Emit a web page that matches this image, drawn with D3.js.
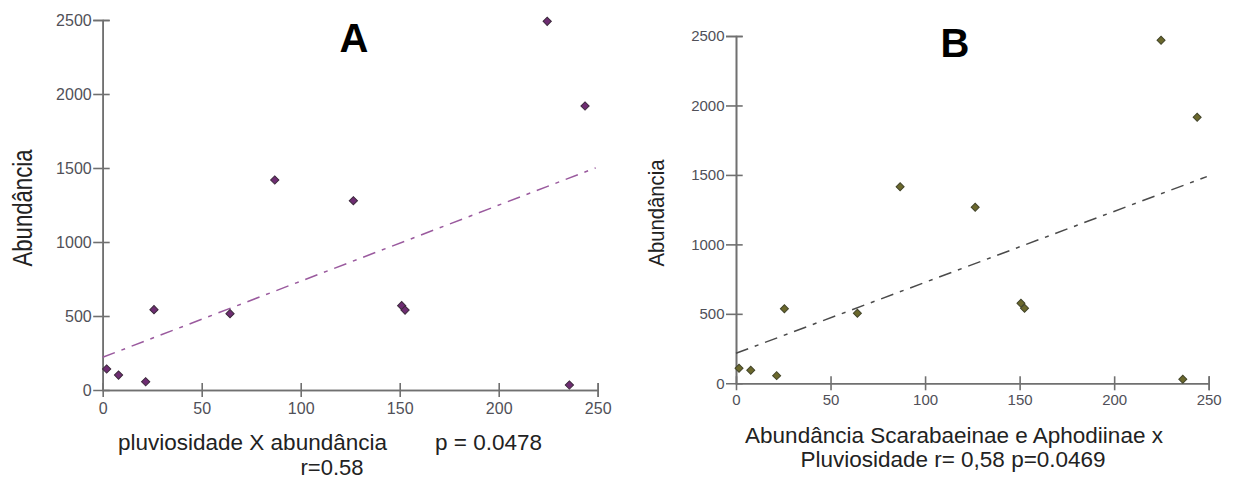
<!DOCTYPE html>
<html>
<head>
<meta charset="utf-8">
<script src="https://cdn.jsdelivr.net/npm/d3@7"></script>
<style>
  body { margin: 0; background: #fff; }
  svg { display: block; font-family: "Liberation Sans", Arial, sans-serif; }
</style>
</head>
<body>
<svg id="chart" width="1233" height="480"></svg>
<script>
// ---- data ----
const xTicks = [0, 50, 100, 150, 200, 250];
const yTicks = [0, 500, 1000, 1500, 2000, 2500];

const rainA = [2, 8, 21.7, 25.9, 64.3, 86.9, 126.6, 151.0, 152.7, 224.5, 235.7, 243.6];
const abundA = [142, 101, 56, 543, 516, 1419, 1279, 570, 540, 2491, 34, 1919];
const trendAx = [0, 249];
const trendAy = [221, 1501];

const rainB = [1.6, 7.8, 21.5, 25.6, 64.2, 86.8, 126.5, 150.7, 152.6, 224.8, 236.3, 243.9];
const abundB = [108, 94, 55, 537, 504, 1415, 1267, 576, 540, 2469, 29, 1915];
const trendBx = [0, 249];
const trendBy = [216, 1488];

const titles = ["A", "B"];
const yLabel = "Abundância";
const captionA = ["pluviosidade X abundância", "p = 0.0478", "r=0.58"];
const captionB = ["Abundância Scarabaeinae e Aphodiinae x", "Pluviosidade r= 0,58 p=0.0469"];

// ---- drawing ----
const svg = d3.select("#chart");
const fmt = d3.format("d");

function panel(cfg) {
  const x = d3.scaleLinear().domain([0, 250]).range(cfg.xr);
  const y = d3.scaleLinear().domain([0, 2500]).range(cfg.yr);
  const g = svg.append("g");

  const ya = g.append("g").attr("transform", `translate(${cfg.xr[0]},0)`)
    .call(d3.axisLeft(y).tickValues(yTicks).tickFormat(fmt).tickSizeOuter(0).tickSize(cfg.yTickOut).tickPadding(cfg.yPad));
  const yb = g.append("g").attr("transform", `translate(${cfg.xr[0]},0)`)
    .call(d3.axisLeft(y).tickValues(yTicks).tickSizeOuter(0).tickSize(-cfg.yTickIn).tickFormat(""));
  const xa = g.append("g").attr("transform", `translate(0,${cfg.yr[0]})`)
    .call(d3.axisBottom(x).tickValues(xTicks).tickFormat(fmt).tickSizeOuter(0).tickSize(7).tickPadding(cfg.xPad));
  const xb = g.append("g").attr("transform", `translate(0,${cfg.yr[0]})`)
    .call(d3.axisBottom(x).tickValues(xTicks).tickSizeOuter(0).tickSize(-7).tickFormat(""));

  [ya, yb, xa, xb].forEach(a => {
    a.attr("font-family", "Liberation Sans, Arial, sans-serif").attr("font-size", cfg.tickFont);
    a.select(".domain").attr("stroke", "#707070").attr("stroke-width", 1.6);
    a.selectAll(".tick line").attr("stroke", "#707070").attr("stroke-width", 1.6);
    a.selectAll(".tick").filter(d => d === 0).select("line").remove();
    a.selectAll(".tick text").attr("fill", "#505058");
  });

  const tl = d3.line().x(d => x(d[0])).y(d => y(d[1]));
  g.append("path")
    .datum(cfg.tx.map((v, i) => [v, cfg.ty[i]]))
    .attr("d", tl)
    .attr("fill", "none")
    .attr("stroke", cfg.lineColor)
    .attr("stroke-width", 1.5)
    .attr("stroke-dasharray", "13,7,4,7");

  const sym = d3.symbol().type(d3.symbolSquare).size(cfg.msize);
  g.selectAll("path.pt")
    .data(cfg.px.map((v, i) => [v, cfg.py[i]]))
    .join("path")
    .attr("class", "pt")
    .attr("d", sym)
    .attr("transform", d => `translate(${x(d[0])},${y(d[1])}) rotate(45)`)
    .attr("fill", cfg.fill)
    .attr("stroke", cfg.stroke)
    .attr("stroke-width", 1);

  g.append("text").attr("x", cfg.titleX).attr("y", cfg.titleY)
    .attr("text-anchor", "middle").attr("font-weight", "bold")
    .attr("font-size", 40).attr("fill", "#000").text(cfg.title);

  g.append("text")
    .attr("transform", `translate(${cfg.ylX},${cfg.ylY}) rotate(-90)`)
    .attr("text-anchor", "middle")
    .attr("font-size", cfg.ylFont)
    .attr("textLength", cfg.ylLen)
    .attr("lengthAdjust", "spacingAndGlyphs")
    .attr("fill", "#222").text(yLabel);
  return g;
}

const gA = panel({
  xr: [102.7, 597.7], yr: [390, 20],
  yTickOut: 9.5, yTickIn: 7, yPad: 1.5, xPad: 6, tickFont: 16,
  tx: trendAx, ty: trendAy, lineColor: "#9a5a9e",
  px: rainA, py: abundA, fill: "#6e2c72", stroke: "#3c2a3c", msize: 34,
  title: titles[0], titleX: 354, titleY: 52,
  ylX: 32, ylY: 208, ylFont: 27, ylLen: 117
});

const gB = panel({
  xr: [736, 1208.7], yr: [383.3, 36],
  yTickOut: 10, yTickIn: 6.7, yPad: 1.5, xPad: 4, tickFont: 15,
  tx: trendBx, ty: trendBy, lineColor: "#4a4a4a",
  px: rainB, py: abundB, fill: "#6b682c", stroke: "#43452a", msize: 32,
  title: titles[1], titleX: 955, titleY: 57,
  ylX: 664, ylY: 213, ylFont: 22, ylLen: 107
});

gA.append("text").attr("x", 118).attr("y", 450).attr("font-size", 22.5).attr("fill", "#222")
  .text(captionA[0]);
gA.append("text").attr("x", 542).attr("y", 450).attr("font-size", 22.5).attr("fill", "#222")
  .attr("text-anchor", "end").text(captionA[1]);
gA.append("text").attr("x", 332).attr("y", 475).attr("font-size", 22).attr("fill", "#222")
  .attr("text-anchor", "middle").text(captionA[2]);

gB.append("text").attr("x", 954).attr("y", 443).attr("font-size", 22.5).attr("fill", "#222")
  .attr("text-anchor", "middle").text(captionB[0]);
gB.append("text").attr("x", 953).attr("y", 467).attr("font-size", 22.5).attr("fill", "#222")
  .attr("text-anchor", "middle").text(captionB[1]);
</script>
</body>
</html>
